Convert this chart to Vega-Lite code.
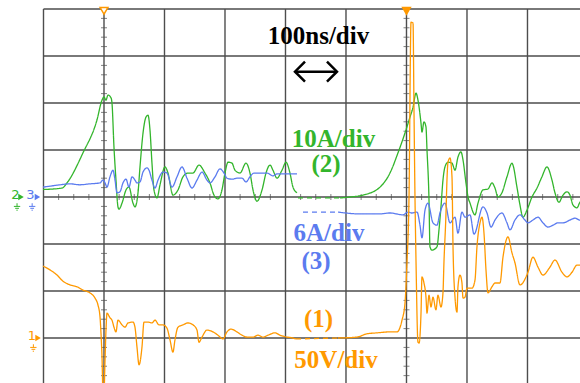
{
  "$schema": "https://vega.github.io/schema/vega-lite/v6.json",
  "width": 580,
  "height": 383,
  "padding": 0,
  "autosize": {"type": "none"},
  "background": "white",
  "config": {"view": {"stroke": null}, "axis": {"disable": true}, "legend": {"disable": true}},
  "datasets": {
    "vgrid": [{"t":0},{"t":100},{"t":200},{"t":300},{"t":400},{"t":500},{"t":600},{"t":700},{"t":800},{"t":900}],
    "hgrid": [{"v":-4},{"v":-3},{"v":-2},{"v":-1},{"v":0},{"v":1},{"v":2},{"v":3},{"v":4}],
    "vticks": [
      {"t":100,"vs":[-3.8,-3.6,-3.4,-3.2,-2.8,-2.6,-2.4,-2.2,-1.8,-1.6,-1.4,-1.2,-0.8,-0.6,-0.4,-0.2,0.2,0.4,0.6,0.8,1.2,1.4,1.6,1.8,2.2,2.4,2.6,2.8,3.2,3.4,3.6,3.8]},
      {"t":600,"vs":[-3.8,-3.6,-3.4,-3.2,-2.8,-2.6,-2.4,-2.2,-1.8,-1.6,-1.4,-1.2,-0.8,-0.6,-0.4,-0.2,0.2,0.4,0.6,0.8,1.2,1.4,1.6,1.8,2.2,2.4,2.6,2.8,3.2,3.4,3.6,3.8]}
    ],
    "hticks": [{"v":0,"ts":[25,50,75,125,150,175,225,250,275,325,350,375,425,450,475,525,550,575,625,650,675,725,750,775,825,850,875]}],
    "traces": [
      {"c":"2","s":"g1","d":"s","t":-0.8,"v":0.16},{"c":"2","s":"g1","d":"s","t":30.6,"v":0.19},{"c":"2","s":"g1","d":"s","t":38.8,"v":0.30},{"c":"2","s":"g1","d":"s","t":65.3,"v":0.94},{"c":"2","s":"g1","d":"s","t":88.4,"v":1.64},{"c":"2","s":"g1","d":"s","t":96.7,"v":2.06},{"c":"2","s":"g1","d":"s","t":100,"v":2.13},{"c":"2","s":"g1","d":"s","t":103.3,"v":2.06},{"c":"2","s":"g1","d":"s","t":106.6,"v":2.17},{"c":"2","s":"g1","d":"s","t":111.6,"v":2.11},{"c":"2","s":"g1","d":"s","t":113.2,"v":2.0},{"c":"2","s":"g1","d":"s","t":116.5,"v":1.06},{"c":"2","s":"g1","d":"s","t":119.8,"v":0.36},{"c":"2","s":"g1","d":"s","t":123.1,"v":-0.21},{"c":"2","s":"g1","d":"s","t":124.8,"v":-0.26},{"c":"2","s":"g1","d":"s","t":129.8,"v":-0.13},{"c":"2","s":"g1","d":"s","t":136.4,"v":0.15},{"c":"2","s":"g1","d":"s","t":141.3,"v":0.21},{"c":"2","s":"g1","d":"s","t":147.9,"v":-0.13},{"c":"2","s":"g1","d":"s","t":151.2,"v":-0.21},{"c":"2","s":"g1","d":"s","t":156.2,"v":0.09},{"c":"2","s":"g1","d":"s","t":159.5,"v":0.64},{"c":"2","s":"g1","d":"s","t":164.5,"v":1.36},{"c":"2","s":"g1","d":"s","t":169.4,"v":1.70},{"c":"2","s":"g1","d":"s","t":172.7,"v":1.74},{"c":"2","s":"g1","d":"s","t":176.0,"v":1.43},{"c":"2","s":"g1","d":"s","t":179.3,"v":0.72},{"c":"2","s":"g1","d":"s","t":182.6,"v":0.15},{"c":"2","s":"g1","d":"s","t":187.6,"v":-0.02},{"c":"2","s":"g1","d":"s","t":192.6,"v":0.26},{"c":"2","s":"g1","d":"s","t":200.8,"v":0.64},{"c":"2","s":"g1","d":"s","t":205.8,"v":0.51},{"c":"2","s":"g1","d":"s","t":214.0,"v":0.04},{"c":"2","s":"g1","d":"s","t":222.3,"v":0.15},{"c":"2","s":"g1","d":"s","t":230.6,"v":0.43},{"c":"2","s":"g1","d":"s","t":238.8,"v":0.51},{"c":"2","s":"g1","d":"s","t":247.1,"v":0.51},{"c":"2","s":"g1","d":"s","t":257.0,"v":0.68},{"c":"2","s":"g1","d":"s","t":266.9,"v":0.51},{"c":"2","s":"g1","d":"s","t":275.2,"v":0.30},{"c":"2","s":"g1","d":"s","t":281.8,"v":0.04},{"c":"2","s":"g1","d":"s","t":288.4,"v":-0.04},{"c":"2","s":"g1","d":"s","t":295.0,"v":0.15},{"c":"2","s":"g1","d":"s","t":300.0,"v":0.51},{"c":"2","s":"g1","d":"s","t":305.0,"v":0.74},{"c":"2","s":"g1","d":"s","t":311.6,"v":0.72},{"c":"2","s":"g1","d":"s","t":316.5,"v":0.57},{"c":"2","s":"g1","d":"s","t":324.8,"v":0.51},{"c":"2","s":"g1","d":"s","t":334.7,"v":0.72},{"c":"2","s":"g1","d":"s","t":341.3,"v":0.51},{"c":"2","s":"g1","d":"s","t":346.3,"v":0.15},{"c":"2","s":"g1","d":"s","t":352.9,"v":-0.09},{"c":"2","s":"g1","d":"s","t":361.2,"v":0.15},{"c":"2","s":"g1","d":"s","t":367.8,"v":0.51},{"c":"2","s":"g1","d":"s","t":374.4,"v":0.68},{"c":"2","s":"g1","d":"s","t":379.3,"v":0.57},{"c":"2","s":"g1","d":"s","t":385.9,"v":0.40},{"c":"2","s":"g1","d":"s","t":394.2,"v":0.57},{"c":"2","s":"g1","d":"s","t":400.8,"v":0.74},{"c":"2","s":"g1","d":"s","t":407.4,"v":0.51},{"c":"2","s":"g1","d":"s","t":412.4,"v":0.21},{"c":"2","s":"g1","d":"s","t":419.0,"v":0.09},
      {"c":"2","s":"g2","d":"d","t":420.7,"v":-0.02},{"c":"2","s":"g2","d":"d","t":490.1,"v":-0.02},
      {"c":"2","s":"g3","d":"s","t":490.1,"v":-0.02},{"c":"2","s":"g3","d":"s","t":506.6,"v":0},{"c":"2","s":"g3","d":"s","t":528.1,"v":0.04},{"c":"2","s":"g3","d":"s","t":556.2,"v":0.21},{"c":"2","s":"g3","d":"s","t":572.7,"v":0.51},{"c":"2","s":"g3","d":"s","t":586.0,"v":0.94},{"c":"2","s":"g3","d":"s","t":597.5,"v":1.36},{"c":"2","s":"g3","d":"s","t":605.8,"v":1.70},{"c":"2","s":"g3","d":"s","t":610.8,"v":1.91},{"c":"2","s":"g3","d":"s","t":615.7,"v":2.21},{"c":"2","s":"g3","d":"s","t":619.0,"v":2.06},{"c":"2","s":"g3","d":"s","t":624.0,"v":1.57},{"c":"2","s":"g3","d":"s","t":625.6,"v":1.38},{"c":"2","s":"g3","d":"s","t":628.9,"v":1.60},{"c":"2","s":"g3","d":"s","t":632.2,"v":1.49},{"c":"2","s":"g3","d":"s","t":633.9,"v":1.0},{"c":"2","s":"g3","d":"s","t":637.2,"v":-0.06},{"c":"2","s":"g3","d":"s","t":638.8,"v":-1.06},{"c":"2","s":"g3","d":"s","t":642.1,"v":-1.13},{"c":"2","s":"g3","d":"s","t":650.4,"v":-1.06},{"c":"2","s":"g3","d":"s","t":653.7,"v":-0.70},{"c":"2","s":"g3","d":"s","t":657.0,"v":-0.21},{"c":"2","s":"g3","d":"s","t":660.3,"v":0.36},{"c":"2","s":"g3","d":"s","t":663.6,"v":0.64},{"c":"2","s":"g3","d":"s","t":668.6,"v":0.74},{"c":"2","s":"g3","d":"s","t":675.2,"v":0.72},{"c":"2","s":"g3","d":"s","t":680.2,"v":0.57},{"c":"2","s":"g3","d":"s","t":685.1,"v":0.85},{"c":"2","s":"g3","d":"s","t":690.1,"v":0.96},{"c":"2","s":"g3","d":"s","t":693.4,"v":0.79},{"c":"2","s":"g3","d":"s","t":698.3,"v":0.30},{"c":"2","s":"g3","d":"s","t":701.7,"v":0},{"c":"2","s":"g3","d":"s","t":705.0,"v":-0.13},{"c":"2","s":"g3","d":"s","t":713.2,"v":-0.38},{"c":"2","s":"g3","d":"s","t":718.2,"v":-0.13},{"c":"2","s":"g3","d":"s","t":726.4,"v":0.15},{"c":"2","s":"g3","d":"s","t":734.7,"v":0.17},{"c":"2","s":"g3","d":"s","t":741.3,"v":0.30},{"c":"2","s":"g3","d":"s","t":746.3,"v":0.19},{"c":"2","s":"g3","d":"s","t":751.2,"v":0},{"c":"2","s":"g3","d":"s","t":757.8,"v":0.09},{"c":"2","s":"g3","d":"s","t":766.1,"v":0.43},{"c":"2","s":"g3","d":"s","t":774.4,"v":0.72},{"c":"2","s":"g3","d":"s","t":776.0,"v":0.68},{"c":"2","s":"g3","d":"s","t":782.6,"v":0.21},{"c":"2","s":"g3","d":"s","t":787.6,"v":-0.17},{"c":"2","s":"g3","d":"s","t":792.5,"v":-0.43},{"c":"2","s":"g3","d":"s","t":799.1,"v":-0.28},{"c":"2","s":"g3","d":"s","t":807.4,"v":0},{"c":"2","s":"g3","d":"s","t":815.7,"v":0.19},{"c":"2","s":"g3","d":"s","t":823.9,"v":0.43},{"c":"2","s":"g3","d":"s","t":832.2,"v":0.64},{"c":"2","s":"g3","d":"s","t":840.5,"v":0.36},{"c":"2","s":"g3","d":"s","t":845.4,"v":0.09},{"c":"2","s":"g3","d":"s","t":852.0,"v":-0.11},{"c":"2","s":"g3","d":"s","t":858.7,"v":0.04},{"c":"2","s":"g3","d":"s","t":865.3,"v":0.11},{"c":"2","s":"g3","d":"s","t":870.2,"v":0.04},{"c":"2","s":"g3","d":"s","t":875.2,"v":-0.17},{"c":"2","s":"g3","d":"s","t":881.8,"v":-0.23},{"c":"2","s":"g3","d":"s","t":886.8,"v":-0.11},{"c":"2","s":"g3","d":"s","t":893.4,"v":-0.06},
      {"c":"3","s":"h1","d":"s","t":-0.8,"v":0.21},{"c":"3","s":"h1","d":"s","t":10.7,"v":0.23},{"c":"3","s":"h1","d":"s","t":27.3,"v":0.26},{"c":"3","s":"h1","d":"s","t":43.8,"v":0.28},{"c":"3","s":"h1","d":"s","t":60.3,"v":0.26},{"c":"3","s":"h1","d":"s","t":76.9,"v":0.28},{"c":"3","s":"h1","d":"s","t":93.4,"v":0.30},{"c":"3","s":"h1","d":"s","t":98.3,"v":0.36},{"c":"3","s":"h1","d":"s","t":101.7,"v":0.30},{"c":"3","s":"h1","d":"s","t":105.0,"v":0.21},{"c":"3","s":"h1","d":"s","t":109.9,"v":0.43},{"c":"3","s":"h1","d":"s","t":114.9,"v":0.57},{"c":"3","s":"h1","d":"s","t":118.2,"v":0.36},{"c":"3","s":"h1","d":"s","t":121.5,"v":0.09},{"c":"3","s":"h1","d":"s","t":126.4,"v":0.11},{"c":"3","s":"h1","d":"s","t":131.4,"v":0.30},{"c":"3","s":"h1","d":"s","t":136.4,"v":0.38},{"c":"3","s":"h1","d":"s","t":141.3,"v":0.21},{"c":"3","s":"h1","d":"s","t":146.3,"v":0.43},{"c":"3","s":"h1","d":"s","t":151.2,"v":0.36},{"c":"3","s":"h1","d":"s","t":154.5,"v":0.30},{"c":"3","s":"h1","d":"s","t":159.5,"v":0.32},{"c":"3","s":"h1","d":"s","t":164.5,"v":0.53},{"c":"3","s":"h1","d":"s","t":171.1,"v":0.62},{"c":"3","s":"h1","d":"s","t":174.4,"v":0.57},{"c":"3","s":"h1","d":"s","t":179.3,"v":0.36},{"c":"3","s":"h1","d":"s","t":184.3,"v":0.19},{"c":"3","s":"h1","d":"s","t":189.3,"v":0.36},{"c":"3","s":"h1","d":"s","t":197.5,"v":0.53},{"c":"3","s":"h1","d":"s","t":204.1,"v":0.51},{"c":"3","s":"h1","d":"s","t":212.4,"v":0.21},{"c":"3","s":"h1","d":"s","t":220.7,"v":0.43},{"c":"3","s":"h1","d":"s","t":228.9,"v":0.64},{"c":"3","s":"h1","d":"s","t":237.2,"v":0.40},{"c":"3","s":"h1","d":"s","t":245.5,"v":0.19},{"c":"3","s":"h1","d":"s","t":253.7,"v":0.36},{"c":"3","s":"h1","d":"s","t":262.0,"v":0.53},{"c":"3","s":"h1","d":"s","t":270.2,"v":0.36},{"c":"3","s":"h1","d":"s","t":275.2,"v":0.30},{"c":"3","s":"h1","d":"s","t":283.5,"v":0.43},{"c":"3","s":"h1","d":"s","t":291.7,"v":0.60},{"c":"3","s":"h1","d":"s","t":298.3,"v":0.51},{"c":"3","s":"h1","d":"s","t":303.3,"v":0.40},{"c":"3","s":"h1","d":"s","t":311.6,"v":0.38},{"c":"3","s":"h1","d":"s","t":319.8,"v":0.40},{"c":"3","s":"h1","d":"s","t":328.1,"v":0.40},{"c":"3","s":"h1","d":"s","t":334.7,"v":0.32},{"c":"3","s":"h1","d":"s","t":341.3,"v":0.43},{"c":"3","s":"h1","d":"s","t":348.0,"v":0.51},{"c":"3","s":"h1","d":"s","t":357.9,"v":0.51},{"c":"3","s":"h1","d":"s","t":369.4,"v":0.51},{"c":"3","s":"h1","d":"s","t":379.3,"v":0.45},{"c":"3","s":"h1","d":"s","t":385.9,"v":0.49},{"c":"3","s":"h1","d":"s","t":395.9,"v":0.49},{"c":"3","s":"h1","d":"s","t":407.4,"v":0.49},{"c":"3","s":"h1","d":"s","t":419.0,"v":0.49},
      {"c":"3","s":"h2","d":"d","t":428.9,"v":-0.32},{"c":"3","s":"h2","d":"d","t":486.8,"v":-0.32},
      {"c":"3","s":"h3","d":"s","t":486.8,"v":-0.32},{"c":"3","s":"h3","d":"s","t":523.2,"v":-0.36},{"c":"3","s":"h3","d":"s","t":556.2,"v":-0.36},{"c":"3","s":"h3","d":"s","t":572.7,"v":-0.34},{"c":"3","s":"h3","d":"s","t":594.2,"v":-0.38},{"c":"3","s":"h3","d":"s","t":602.5,"v":-0.32},{"c":"3","s":"h3","d":"s","t":609.1,"v":-0.34},{"c":"3","s":"h3","d":"s","t":617.4,"v":-0.32},{"c":"3","s":"h3","d":"s","t":622.3,"v":-0.60},{"c":"3","s":"h3","d":"s","t":625.6,"v":-0.87},{"c":"3","s":"h3","d":"s","t":630.6,"v":-0.28},{"c":"3","s":"h3","d":"s","t":635.5,"v":-0.13},{"c":"3","s":"h3","d":"s","t":643.8,"v":-0.55},{"c":"3","s":"h3","d":"s","t":650.4,"v":-0.60},{"c":"3","s":"h3","d":"s","t":655.3,"v":-0.34},{"c":"3","s":"h3","d":"s","t":663.6,"v":-0.13},{"c":"3","s":"h3","d":"s","t":671.9,"v":-0.55},{"c":"3","s":"h3","d":"s","t":680.2,"v":-0.43},{"c":"3","s":"h3","d":"s","t":685.1,"v":-0.77},{"c":"3","s":"h3","d":"s","t":691.7,"v":-0.32},{"c":"3","s":"h3","d":"s","t":696.7,"v":-0.43},{"c":"3","s":"h3","d":"s","t":705.0,"v":-0.38},{"c":"3","s":"h3","d":"s","t":711.6,"v":-0.79},{"c":"3","s":"h3","d":"s","t":726.4,"v":-0.21},{"c":"3","s":"h3","d":"s","t":733.1,"v":-0.34},{"c":"3","s":"h3","d":"s","t":739.7,"v":-0.64},{"c":"3","s":"h3","d":"s","t":746.3,"v":-0.49},{"c":"3","s":"h3","d":"s","t":757.8,"v":-0.34},{"c":"3","s":"h3","d":"s","t":766.1,"v":-0.55},{"c":"3","s":"h3","d":"s","t":771.1,"v":-0.70},{"c":"3","s":"h3","d":"s","t":779.3,"v":-0.49},{"c":"3","s":"h3","d":"s","t":787.6,"v":-0.38},{"c":"3","s":"h3","d":"s","t":795.8,"v":-0.49},{"c":"3","s":"h3","d":"s","t":800.8,"v":-0.55},{"c":"3","s":"h3","d":"s","t":809.0,"v":-0.49},{"c":"3","s":"h3","d":"s","t":817.3,"v":-0.43},{"c":"3","s":"h3","d":"s","t":825.6,"v":-0.55},{"c":"3","s":"h3","d":"s","t":833.9,"v":-0.64},{"c":"3","s":"h3","d":"s","t":842.1,"v":-0.60},{"c":"3","s":"h3","d":"s","t":850.4,"v":-0.55},{"c":"3","s":"h3","d":"s","t":858.7,"v":-0.55},{"c":"3","s":"h3","d":"s","t":870.2,"v":-0.49},{"c":"3","s":"h3","d":"s","t":878.5,"v":-0.45},{"c":"3","s":"h3","d":"s","t":886.8,"v":-0.49},{"c":"3","s":"h3","d":"s","t":893.4,"v":-0.47},
      {"c":"1","s":"o1","d":"s","t":-0.8,"v":-1.47},{"c":"1","s":"o1","d":"s","t":10.7,"v":-1.55},{"c":"1","s":"o1","d":"s","t":22.3,"v":-1.66},{"c":"1","s":"o1","d":"s","t":32.2,"v":-1.79},{"c":"1","s":"o1","d":"s","t":43.8,"v":-1.87},{"c":"1","s":"o1","d":"s","t":55.4,"v":-1.91},{"c":"1","s":"o1","d":"s","t":65.3,"v":-1.98},{"c":"1","s":"o1","d":"s","t":76.9,"v":-2.04},{"c":"1","s":"o1","d":"s","t":85.1,"v":-2.15},{"c":"1","s":"o1","d":"s","t":90.1,"v":-2.30},{"c":"1","s":"o1","d":"s","t":93.4,"v":-2.55},{"c":"1","s":"o1","d":"s","t":95.0,"v":-2.89},{"c":"1","s":"o1","d":"s","t":96.7,"v":-3.40},{"c":"1","s":"o1","d":"s","t":98.3,"v":-4.15},{"c":"1","s":"o1","d":"s","t":100.0,"v":-4.15},{"c":"1","s":"o1","d":"s","t":101.7,"v":-3.47},{"c":"1","s":"o1","d":"s","t":103.3,"v":-2.83},{"c":"1","s":"o1","d":"s","t":105.0,"v":-2.47},{"c":"1","s":"o1","d":"s","t":109.9,"v":-2.57},{"c":"1","s":"o1","d":"s","t":113.2,"v":-2.62},{"c":"1","s":"o1","d":"s","t":116.5,"v":-2.77},{"c":"1","s":"o1","d":"s","t":119.8,"v":-2.87},{"c":"1","s":"o1","d":"s","t":123.1,"v":-2.62},{"c":"1","s":"o1","d":"s","t":129.8,"v":-2.72},{"c":"1","s":"o1","d":"s","t":134.7,"v":-2.77},{"c":"1","s":"o1","d":"s","t":139.7,"v":-2.68},{"c":"1","s":"o1","d":"s","t":147.9,"v":-2.66},{"c":"1","s":"o1","d":"s","t":151.2,"v":-2.77},{"c":"1","s":"o1","d":"s","t":154.5,"v":-3.19},{"c":"1","s":"o1","d":"s","t":157.9,"v":-3.57},{"c":"1","s":"o1","d":"s","t":162.8,"v":-3.19},{"c":"1","s":"o1","d":"s","t":166.1,"v":-2.66},{"c":"1","s":"o1","d":"s","t":172.7,"v":-2.66},{"c":"1","s":"o1","d":"s","t":179.3,"v":-2.68},{"c":"1","s":"o1","d":"s","t":184.3,"v":-2.62},{"c":"1","s":"o1","d":"s","t":190.9,"v":-2.72},{"c":"1","s":"o1","d":"s","t":197.5,"v":-2.72},{"c":"1","s":"o1","d":"s","t":204.1,"v":-2.79},{"c":"1","s":"o1","d":"s","t":209.1,"v":-3.04},{"c":"1","s":"o1","d":"s","t":214.0,"v":-3.30},{"c":"1","s":"o1","d":"s","t":217.3,"v":-3.04},{"c":"1","s":"o1","d":"s","t":222.3,"v":-2.77},{"c":"1","s":"o1","d":"s","t":230.6,"v":-2.72},{"c":"1","s":"o1","d":"s","t":238.8,"v":-2.68},{"c":"1","s":"o1","d":"s","t":247.1,"v":-2.72},{"c":"1","s":"o1","d":"s","t":253.7,"v":-2.83},{"c":"1","s":"o1","d":"s","t":257.0,"v":-3.09},{"c":"1","s":"o1","d":"s","t":262.0,"v":-2.98},{"c":"1","s":"o1","d":"s","t":270.2,"v":-2.83},{"c":"1","s":"o1","d":"s","t":280.2,"v":-2.87},{"c":"1","s":"o1","d":"s","t":288.4,"v":-2.94},{"c":"1","s":"o1","d":"s","t":296.7,"v":-3.02},{"c":"1","s":"o1","d":"s","t":303.3,"v":-2.87},{"c":"1","s":"o1","d":"s","t":309.9,"v":-2.81},{"c":"1","s":"o1","d":"s","t":319.8,"v":-2.87},{"c":"1","s":"o1","d":"s","t":328.1,"v":-2.94},{"c":"1","s":"o1","d":"s","t":336.4,"v":-2.98},{"c":"1","s":"o1","d":"s","t":346.3,"v":-2.98},{"c":"1","s":"o1","d":"s","t":354.6,"v":-2.94},{"c":"1","s":"o1","d":"s","t":362.8,"v":-2.98},{"c":"1","s":"o1","d":"s","t":371.1,"v":-2.94},{"c":"1","s":"o1","d":"s","t":382.6,"v":-2.89},{"c":"1","s":"o1","d":"s","t":390.9,"v":-2.94},{"c":"1","s":"o1","d":"s","t":402.5,"v":-2.98},{"c":"1","s":"o1","d":"s","t":412.4,"v":-3.0},{"c":"1","s":"o1","d":"s","t":417.4,"v":-3.02},
      {"c":"1","s":"o2","d":"d","t":417.4,"v":-3.02},{"c":"1","s":"o2","d":"d","t":486.8,"v":-3.0},
      {"c":"1","s":"o3","d":"s","t":486.8,"v":-3.0},{"c":"1","s":"o3","d":"s","t":518.2,"v":-2.98},{"c":"1","s":"o3","d":"s","t":534.7,"v":-2.91},{"c":"1","s":"o3","d":"s","t":551.2,"v":-2.89},{"c":"1","s":"o3","d":"s","t":572.7,"v":-2.87},{"c":"1","s":"o3","d":"s","t":584.3,"v":-2.87},{"c":"1","s":"o3","d":"s","t":592.6,"v":-2.62},{"c":"1","s":"o3","d":"s","t":597.5,"v":-2.26},{"c":"1","s":"o3","d":"s","t":600.8,"v":-1.40},{"c":"1","s":"o3","d":"s","t":604.1,"v":-0.06},{"c":"1","s":"o3","d":"s","t":607.5,"v":3.72},{"c":"1","s":"o3","d":"s","t":610.8,"v":3.70},{"c":"1","s":"o3","d":"s","t":612.4,"v":1.85},{"c":"1","s":"o3","d":"s","t":614.1,"v":-0.06},{"c":"1","s":"o3","d":"s","t":615.7,"v":-1.34},{"c":"1","s":"o3","d":"s","t":619.0,"v":-3.09},{"c":"1","s":"o3","d":"s","t":620.7,"v":-3.11},{"c":"1","s":"o3","d":"s","t":624.0,"v":-2.47},{"c":"1","s":"o3","d":"s","t":625.6,"v":-1.70},{"c":"1","s":"o3","d":"s","t":628.9,"v":-1.83},{"c":"1","s":"o3","d":"s","t":632.2,"v":-2.13},{"c":"1","s":"o3","d":"s","t":633.9,"v":-2.47},{"c":"1","s":"o3","d":"s","t":637.2,"v":-2.09},{"c":"1","s":"o3","d":"s","t":640.5,"v":-2.34},{"c":"1","s":"o3","d":"s","t":643.8,"v":-2.13},{"c":"1","s":"o3","d":"s","t":648.7,"v":-2.40},{"c":"1","s":"o3","d":"s","t":652.0,"v":-2.09},{"c":"1","s":"o3","d":"s","t":657.0,"v":-2.34},{"c":"1","s":"o3","d":"s","t":660.3,"v":-2.04},{"c":"1","s":"o3","d":"s","t":661.9,"v":-1.40},{"c":"1","s":"o3","d":"s","t":665.3,"v":-0.34},{"c":"1","s":"o3","d":"s","t":666.9,"v":0.36},{"c":"1","s":"o3","d":"s","t":668.6,"v":0.74},{"c":"1","s":"o3","d":"s","t":671.9,"v":0.83},{"c":"1","s":"o3","d":"s","t":675.2,"v":0.43},{"c":"1","s":"o3","d":"s","t":676.9,"v":-1.06},{"c":"1","s":"o3","d":"s","t":680.2,"v":-2.13},{"c":"1","s":"o3","d":"s","t":683.5,"v":-2.45},{"c":"1","s":"o3","d":"s","t":685.1,"v":-1.91},{"c":"1","s":"o3","d":"s","t":688.4,"v":-1.66},{"c":"1","s":"o3","d":"s","t":691.7,"v":-1.83},{"c":"1","s":"o3","d":"s","t":693.4,"v":-2.15},{"c":"1","s":"o3","d":"s","t":696.7,"v":-2.13},{"c":"1","s":"o3","d":"s","t":700.0,"v":-1.94},{"c":"1","s":"o3","d":"s","t":708.3,"v":-1.94},{"c":"1","s":"o3","d":"s","t":713.2,"v":-1.77},{"c":"1","s":"o3","d":"s","t":716.5,"v":-1.06},{"c":"1","s":"o3","d":"s","t":721.5,"v":-0.55},{"c":"1","s":"o3","d":"s","t":724.8,"v":-0.43},{"c":"1","s":"o3","d":"s","t":728.1,"v":-0.77},{"c":"1","s":"o3","d":"s","t":731.4,"v":-1.55},{"c":"1","s":"o3","d":"s","t":734.7,"v":-2.04},{"c":"1","s":"o3","d":"s","t":741.3,"v":-1.91},{"c":"1","s":"o3","d":"s","t":746.3,"v":-1.83},{"c":"1","s":"o3","d":"s","t":754.5,"v":-1.83},{"c":"1","s":"o3","d":"s","t":759.5,"v":-1.28},{"c":"1","s":"o3","d":"s","t":767.8,"v":-0.85},{"c":"1","s":"o3","d":"s","t":774.4,"v":-1.19},{"c":"1","s":"o3","d":"s","t":779.3,"v":-1.40},{"c":"1","s":"o3","d":"s","t":787.6,"v":-1.87},{"c":"1","s":"o3","d":"s","t":800.8,"v":-1.60},{"c":"1","s":"o3","d":"s","t":809.0,"v":-1.28},{"c":"1","s":"o3","d":"s","t":817.3,"v":-1.49},{"c":"1","s":"o3","d":"s","t":825.6,"v":-1.66},{"c":"1","s":"o3","d":"s","t":837.2,"v":-1.49},{"c":"1","s":"o3","d":"s","t":845.4,"v":-1.34},{"c":"1","s":"o3","d":"s","t":857.0,"v":-1.60},{"c":"1","s":"o3","d":"s","t":865.3,"v":-1.70},{"c":"1","s":"o3","d":"s","t":873.6,"v":-1.60},{"c":"1","s":"o3","d":"s","t":881.8,"v":-1.45},{"c":"1","s":"o3","d":"s","t":886.8,"v":-1.45},{"c":"1","s":"o3","d":"s","t":893.4,"v":-1.45}
    ],
    "labels": [
      {"label":"100ns/div","c":"k","t":454.5,"v":3.255},
      {"label":"10A/div","c":"2","t":479.3,"v":1.064},
      {"label":"(2)","c":"2","t":466.9,"v":0.532},
      {"label":"6A/div","c":"3","t":471.9,"v":-0.936},
      {"label":"(3)","c":"3","t":450.4,"v":-1.532},
      {"label":"(1)","c":"1","t":454.5,"v":-2.766},
      {"label":"50V/div","c":"1","t":483.5,"v":-3.638}
    ],
    "chmarks": [
      {"label":"2","c":"2","t":-46.5,"v":0.04},
      {"label":"3","c":"3","t":-21.5,"v":0.04},
      {"label":"1","c":"1","t":-19.0,"v":-2.96}
    ],
    "chtri": [
      {"c":"2","t":-37.2,"v":0},
      {"c":"3","t":-10.0,"v":0},
      {"c":"1","t":-9.0,"v":-3}
    ],
    "chgnd": [
      {"c":"2","t":-38.5,"v":-0.2},
      {"c":"3","t":-13.5,"v":-0.2},
      {"c":"1","t":-11.5,"v":-3.2}
    ]
  },
  "layer": [
    {
      "data": {"name": "vgrid"},
      "mark": {"type": "rule", "color": "#4d4d4d", "strokeWidth": 1.4},
      "encoding": {
        "x": {"field": "t", "type": "quantitative", "scale": {"domain": [-71.9, 886.8], "nice": false, "zero": false}},
        "y": {"datum": 4, "type": "quantitative", "scale": {"domain": [-3.957, 4.191], "nice": false, "zero": false}},
        "y2": {"datum": -4.3}
      }
    },
    {
      "data": {"name": "hgrid"},
      "mark": {"type": "rule", "color": "#4d4d4d", "strokeWidth": 1.4},
      "encoding": {
        "y": {"field": "v", "type": "quantitative", "scale": {"domain": [-3.957, 4.191], "nice": false, "zero": false}},
        "x": {"datum": 0, "type": "quantitative", "scale": {"domain": [-71.9, 886.8], "nice": false, "zero": false}},
        "x2": {"datum": 950}
      }
    },
    {
      "data": {"name": "vticks"},
      "transform": [{"flatten": ["vs"], "as": ["v"]}],
      "mark": {"type": "tick", "orient": "horizontal", "color": "#4d4d4d", "size": 6, "thickness": 1},
      "encoding": {
        "x": {"field": "t", "type": "quantitative", "scale": {"domain": [-71.9, 886.8], "nice": false, "zero": false}},
        "y": {"field": "v", "type": "quantitative", "scale": {"domain": [-3.957, 4.191], "nice": false, "zero": false}}
      }
    },
    {
      "data": {"name": "hticks"},
      "transform": [{"flatten": ["ts"], "as": ["t"]}],
      "mark": {"type": "tick", "orient": "vertical", "color": "#4d4d4d", "size": 6, "thickness": 1},
      "encoding": {
        "x": {"field": "t", "type": "quantitative", "scale": {"domain": [-71.9, 886.8], "nice": false, "zero": false}},
        "y": {"field": "v", "type": "quantitative", "scale": {"domain": [-3.957, 4.191], "nice": false, "zero": false}}
      }
    },
    {
      "data": {"name": "traces"},
      "mark": {"type": "line", "strokeWidth": 1.3, "clip": true, "interpolate": "monotone"},
      "encoding": {
        "x": {"field": "t", "type": "quantitative", "scale": {"domain": [-71.9, 886.8], "nice": false, "zero": false}},
        "y": {"field": "v", "type": "quantitative", "scale": {"domain": [-3.957, 4.191], "nice": false, "zero": false}},
        "color": {"field": "c", "type": "nominal", "scale": {"domain": ["1", "2", "3", "k"], "range": ["#ff9900", "#33b52c", "#5b7bef", "#000000"]}},
        "detail": {"field": "s"},
        "strokeDash": {"field": "d", "type": "nominal", "scale": {"domain": ["s", "d"], "range": [[1, 0], [5, 4]]}}
      }
    },
    {
      "data": {"name": "labels"},
      "mark": {"type": "text", "font": "Liberation Serif", "fontWeight": "bold", "fontSize": 25, "align": "center", "baseline": "alphabetic"},
      "encoding": {
        "x": {"field": "t", "type": "quantitative", "scale": {"domain": [-71.9, 886.8], "nice": false, "zero": false}},
        "y": {"field": "v", "type": "quantitative", "scale": {"domain": [-3.957, 4.191], "nice": false, "zero": false}},
        "text": {"field": "label"},
        "color": {"field": "c", "type": "nominal", "scale": {"domain": ["1", "2", "3", "k"], "range": ["#ff9900", "#33b52c", "#5b7bef", "#000000"]}}
      }
    },
    {
      "data": {"values": [{"a": 1}]},
      "mark": {"type": "rule", "color": "#000000", "strokeWidth": 2.5},
      "encoding": {
        "x": {"datum": 416.5, "type": "quantitative", "scale": {"domain": [-71.9, 886.8], "nice": false, "zero": false}},
        "x2": {"datum": 484.3},
        "y": {"datum": 2.666, "type": "quantitative", "scale": {"domain": [-3.957, 4.191], "nice": false, "zero": false}}
      }
    },
    {
      "data": {"values": [{"side": "L", "t": 415.7, "v": 2.666}, {"side": "R", "t": 485.1, "v": 2.666}]},
      "mark": {"type": "point", "filled": false, "stroke": "#000000", "strokeWidth": 2.5, "size": 400, "opacity": 1},
      "encoding": {
        "x": {"field": "t", "type": "quantitative", "scale": {"domain": [-71.9, 886.8], "nice": false, "zero": false}},
        "y": {"field": "v", "type": "quantitative", "scale": {"domain": [-3.957, 4.191], "nice": false, "zero": false}},
        "shape": {"field": "side", "type": "nominal", "scale": {"domain": ["L", "R"], "range": ["M 1 -1 L 0 0 L 1 1", "M -1 -1 L 0 0 L -1 1"]}}
      }
    },
    {
      "data": {"values": [{"k": "open", "t": 100, "v": 3.96}, {"k": "fill", "t": 600, "v": 3.96}]},
      "mark": {"type": "point", "shape": "triangle-down", "size": 60, "opacity": 1, "stroke": "#ff9900", "strokeWidth": 1.5},
      "encoding": {
        "x": {"field": "t", "type": "quantitative", "scale": {"domain": [-71.9, 886.8], "nice": false, "zero": false}},
        "y": {"field": "v", "type": "quantitative", "scale": {"domain": [-3.957, 4.191], "nice": false, "zero": false}},
        "fill": {"field": "k", "type": "nominal", "scale": {"domain": ["open", "fill"], "range": ["#ffffff", "#ff9900"]}}
      }
    },
    {
      "data": {"name": "chmarks"},
      "mark": {"type": "text", "font": "DejaVu Sans", "fontSize": 13, "align": "center", "baseline": "middle"},
      "encoding": {
        "x": {"field": "t", "type": "quantitative", "scale": {"domain": [-71.9, 886.8], "nice": false, "zero": false}},
        "y": {"field": "v", "type": "quantitative", "scale": {"domain": [-3.957, 4.191], "nice": false, "zero": false}},
        "text": {"field": "label"},
        "color": {"field": "c", "type": "nominal", "scale": {"domain": ["1", "2", "3", "k"], "range": ["#ff9900", "#33b52c", "#5b7bef", "#000000"]}}
      }
    },
    {
      "data": {"name": "chtri"},
      "mark": {"type": "point", "shape": "triangle-right", "size": 40, "filled": true, "opacity": 1},
      "encoding": {
        "x": {"field": "t", "type": "quantitative", "scale": {"domain": [-71.9, 886.8], "nice": false, "zero": false}},
        "y": {"field": "v", "type": "quantitative", "scale": {"domain": [-3.957, 4.191], "nice": false, "zero": false}},
        "color": {"field": "c", "type": "nominal", "scale": {"domain": ["1", "2", "3", "k"], "range": ["#ff9900", "#33b52c", "#5b7bef", "#000000"]}}
      }
    },
    {
      "data": {"name": "chgnd"},
      "mark": {"type": "point", "shape": "M -1 -1 L -1 0 M -2 0 L 0 0 M -1.6 0.6 L -0.4 0.6 M -1.2 1.2 L -0.8 1.2", "size": 40, "filled": false, "strokeWidth": 1, "opacity": 1},
      "encoding": {
        "x": {"field": "t", "type": "quantitative", "scale": {"domain": [-71.9, 886.8], "nice": false, "zero": false}},
        "y": {"field": "v", "type": "quantitative", "scale": {"domain": [-3.957, 4.191], "nice": false, "zero": false}},
        "color": {"field": "c", "type": "nominal", "scale": {"domain": ["1", "2", "3", "k"], "range": ["#ff9900", "#33b52c", "#5b7bef", "#000000"]}}
      }
    }
  ]
}
